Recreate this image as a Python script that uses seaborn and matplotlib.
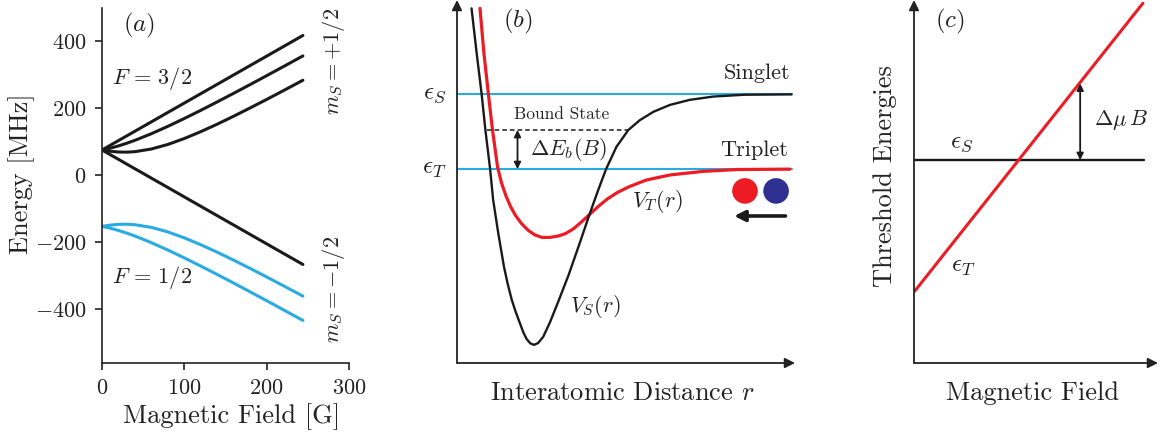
import matplotlib
matplotlib.use("Agg")
import matplotlib.pyplot as plt
import seaborn as sns

# ---------------- Panel (a): hyperfine levels vs field ----------------
field_G = [0, 10, 20, 30, 40, 60, 80, 100, 120, 140, 160, 180, 200, 220, 244]
f32_top = [76.1, 90.1, 104.1, 118.1, 132.1, 160.1, 188.2, 216.2, 244.2, 272.2, 300.3, 328.3, 356.3, 384.3, 418.0]
f32_second = [76.1, 81.5, 88.2, 96.1, 104.9, 124.7, 146.7, 170.1, 194.5, 219.7, 245.4, 271.5, 297.9, 324.6, 356.9]
f32_third = [76.1, 72.2, 70.0, 69.6, 71.0, 79.0, 92.6, 110.3, 130.8, 153.2, 177.0, 201.7, 227.0, 252.8, 284.3]
f32_down = [76.1, 62.1, 48.1, 34.0, 20.0, -8.0, -36.0, -64.1, -92.1, -120.1, -148.1, -176.2, -204.2, -232.2, -265.8]
f12_upper = [-152.1, -148.3, -146.1, -145.7, -147.1, -155.0, -168.6, -186.3, -206.9, -229.3, -253.0, -277.7, -303.1, -328.9, -360.4]
f12_lower = [-152.1, -157.5, -164.3, -172.1, -180.9, -200.8, -222.7, -246.2, -270.6, -295.8, -321.5, -347.6, -374.0, -400.7, -432.9]
a_xticks = [0, 100, 200, 300]
a_yticks = [-400, -200, 0, 200, 400]

# ---------------- Panel (b): potentials (arbitrary units) ----------------
r_singlet = [0.43, 0.58, 0.73, 0.84, 0.98, 1.07, 1.22, 1.39, 1.50, 1.62, 1.74, 1.86, 1.96, 2.06,
             2.17, 2.28, 2.40, 2.55, 2.75, 3.00, 3.30, 3.60, 3.93, 4.18, 4.41, 4.72, 5.07, 5.41,
             5.81, 6.30, 6.89, 7.58, 8.50, 9.90]
V_singlet = [9.77, 8.55, 7.40, 6.42, 5.34, 4.49, 3.58, 2.65, 2.18, 1.74, 1.40, 1.10, 0.85, 0.66,
             0.54, 0.50, 0.55, 0.72, 1.12, 1.70, 2.42, 3.22, 4.12, 4.77, 5.34, 5.96, 6.42, 6.69,
             6.92, 7.11, 7.25, 7.34, 7.39, 7.40]
r_triplet = [0.68, 0.80, 0.93, 1.05, 1.20, 1.32, 1.45, 1.58, 1.72, 1.90, 2.10, 2.30, 2.51, 2.75,
             3.00, 3.20, 3.45, 3.70, 3.93, 4.20, 4.45, 4.75, 5.10, 5.60, 6.30, 7.30, 8.30, 9.85]
V_triplet = [9.77, 8.50, 7.40, 6.42, 5.40, 4.95, 4.60, 4.32, 4.08, 3.85, 3.66, 3.53, 3.46, 3.46,
             3.50, 3.56, 3.70, 3.90, 4.10, 4.33, 4.52, 4.70, 4.86, 5.04, 5.18, 5.28, 5.33, 5.34]
eps_S_level = 7.40
eps_T_level = 5.34
bound_level = 6.42
bound_span = [0.90, 5.07]
atom_r = [8.52, 9.44]
atom_E = [4.74, 4.74]
atom_colors = ["#ED1C24", "#2E3192"]

# ---------------- Panel (c): threshold energies ----------------
c_field = [0.03, 9.38]
c_eps_T = [1.98, 9.91]
c_eps_S_field = [0.0, 9.41]
c_eps_S = [5.59, 5.59]

BLUE = "#29ABE2"
RED = "#ED1C24"
INK = "#1a1a1a"

sns.set_theme(style="ticks")
plt.rcParams.update({
    "font.family": ["cmr10"],
    "mathtext.fontset": "cm",
    "axes.formatter.use_mathtext": True,
    "axes.unicode_minus": True,
    "axes.linewidth": 1.2,
    "xtick.major.width": 1.2,
    "ytick.major.width": 1.2,
    "xtick.major.size": 5,
    "ytick.major.size": 5,
    "xtick.color": "#222222",
    "ytick.color": "#222222",
    "axes.edgecolor": "#222222",
    "text.color": "#222222",
    "axes.labelcolor": "#222222",
})

fig = plt.figure(figsize=(11.62, 4.38), dpi=100)
W, H = 1162, 438


def box(x0, x1, ytop, ybot):
    return [x0 / W, 1 - ybot / H, (x1 - x0) / W, (ybot - ytop) / H]


def ftext(x, y, s, **kw):
    fig.text(x / W, 1 - y / H, s, ha="center", va="center", **kw)


# ---------- (a) ----------
axa = fig.add_axes(box(102, 349, 8, 363))
for vals, col in [(f32_top, INK), (f32_second, INK), (f32_third, INK),
                  (f32_down, INK), (f12_upper, BLUE), (f12_lower, BLUE)]:
    sns.lineplot(x=field_G, y=vals, ax=axa, color=col, lw=2.2, estimator=None, sort=False)
axa.set_xlim(0, 300)
axa.set_ylim(-560, 500)
axa.set_xticks(a_xticks)
axa.set_yticks(a_yticks)
axa.tick_params(labelsize=16, pad=6)
sns.despine(ax=axa)
axa.set_xlabel("")
axa.set_ylabel("")
ftext(232, 417, "Magnetic Field [G]", fontsize=19)
ftext(22, 174, "Energy [MHz]", fontsize=19, rotation=90)
axa.text(45, 447, "$(a)$", fontsize=18, ha="center", va="center")
axa.text(12, 288, r"$F\,=\,3/2$", fontsize=16, ha="left", va="center")
axa.text(12, -304, r"$F\,=\,1/2$", fontsize=16, ha="left", va="center")
axa.text(281, 340, r"$m_S = +1/2$", fontsize=16, ha="center", va="center", rotation=90)
axa.text(281, -342, r"$m_S = -1/2$", fontsize=16, ha="center", va="center", rotation=90)


def arrow_axes(ax):
    for s in ax.spines.values():
        s.set_visible(False)
    ax.set_xticks([])
    ax.set_yticks([])
    kw = dict(arrowstyle="-|>", lw=1.3, color="#222222", mutation_scale=15, shrinkA=0, shrinkB=0)
    ax.annotate("", xy=(1, 0), xytext=(0, 0), xycoords="axes fraction", arrowprops=kw)
    ax.annotate("", xy=(0, 1), xytext=(0, 0), xycoords="axes fraction", arrowprops=kw)


# ---------- (b) ----------
axb = fig.add_axes(box(457, 795, 0, 363))
axb.set_xlim(0, 10)
axb.set_ylim(0, 10)
arrow_axes(axb)
axb.plot([0, 9.90], [eps_S_level, eps_S_level], color=BLUE, lw=1.5, zorder=1)
axb.plot([0, 9.90], [eps_T_level, eps_T_level], color=BLUE, lw=1.5, zorder=1)
sns.lineplot(x=r_singlet, y=V_singlet, ax=axb, color=INK, lw=1.7, estimator=None, sort=False, zorder=3)
sns.lineplot(x=r_triplet, y=V_triplet, ax=axb, color=RED, lw=2.3, estimator=None, sort=False, zorder=2)
axb.plot(bound_span, [bound_level, bound_level], color=INK, lw=1.1, ls=(0, (3, 2)))
axb.annotate("", xy=(1.79, eps_T_level), xytext=(1.79, bound_level),
             arrowprops=dict(arrowstyle="<|-|>", lw=1.3, color=INK, mutation_scale=10,
                             shrinkA=0, shrinkB=0))
sns.scatterplot(x=atom_r, y=atom_E, hue=atom_colors, palette=dict(zip(atom_colors, atom_colors)),
                s=340, ax=axb, legend=False, linewidth=0, zorder=4)
axb.annotate("", xy=(8.20, 4.05), xytext=(9.72, 4.05),
             arrowprops=dict(arrowstyle="-|>", lw=2.6, color=INK, mutation_scale=16,
                             shrinkA=0, shrinkB=0))
axb.set_xlabel("")
axb.set_ylabel("")
axb.text(1.79, 9.40, "$(b)$", fontsize=18, ha="center", va="center")
axb.text(9.87, 7.98, "Singlet", fontsize=16, ha="right", va="center")
axb.text(9.80, 5.87, "Triplet", fontsize=16, ha="right", va="center")
axb.text(1.70, 6.85, "Bound State", fontsize=12.5, ha="left", va="center")
axb.text(2.16, 5.87, r"$\Delta E_b(B)$", fontsize=16, ha="left", va="center")
axb.text(5.17, 4.44, "$V_T(r)$", fontsize=16, ha="left", va="center")
axb.text(3.34, 1.55, "$V_S(r)$", fontsize=16, ha="left", va="center")
axb.text(-0.3, eps_S_level, r"$\epsilon_S$", fontsize=18, ha="right", va="center")
axb.text(-0.3, eps_T_level, r"$\epsilon_T$", fontsize=18, ha="right", va="center")
ftext(622, 393, "Interatomic Distance $r$", fontsize=19)

# ---------- (c) ----------
axc = fig.add_axes(box(914, 1158, 0, 363))
axc.set_xlim(0, 10)
axc.set_ylim(0, 10)
arrow_axes(axc)
sns.lineplot(x=c_eps_S_field, y=c_eps_S, ax=axc, color=INK, lw=1.7, estimator=None, sort=False)
sns.lineplot(x=c_field, y=c_eps_T, ax=axc, color=RED, lw=2.2, estimator=None, sort=False)
axc.annotate("", xy=(6.81, 7.70), xytext=(6.81, 5.59),
             arrowprops=dict(arrowstyle="<|-|>", lw=1.3, color=INK, mutation_scale=10,
                             shrinkA=0, shrinkB=0))
axc.set_xlabel("")
axc.set_ylabel("")
axc.text(1.47, 9.40, "$(c)$", fontsize=18, ha="center", va="center")
axc.text(1.97, 6.05, r"$\epsilon_S$", fontsize=18, ha="center", va="center")
axc.text(2.01, 2.65, r"$\epsilon_T$", fontsize=18, ha="center", va="center")
axc.text(7.36, 6.69, r"$\Delta\mu\, B$", fontsize=16, ha="left", va="center")
ftext(1033, 393, "Magnetic Field", fontsize=19)
ftext(885, 176, "Threshold Energies", fontsize=19, rotation=90)

fig.savefig("out.png", dpi=100)
